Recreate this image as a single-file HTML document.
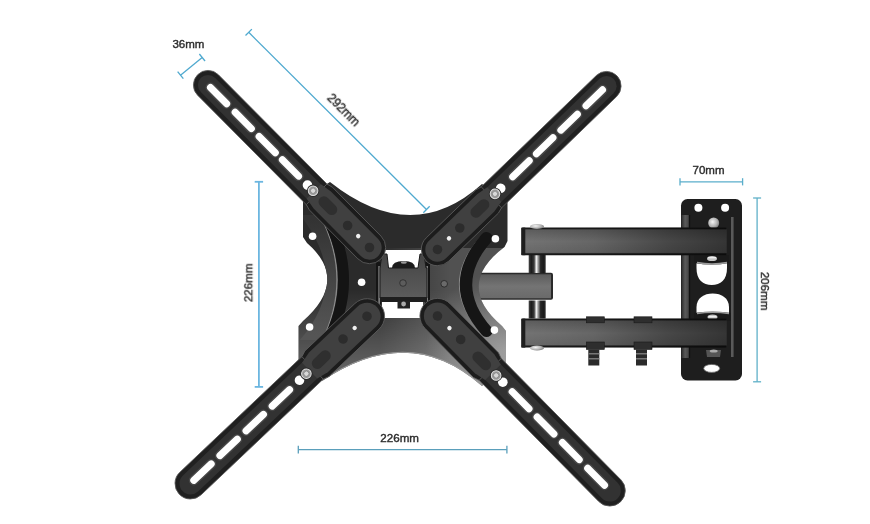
<!DOCTYPE html><html><head><meta charset="utf-8"><style>html,body{margin:0;padding:0;background:#fff;}svg{display:block;}text{font-family:"Liberation Sans",sans-serif;}</style></head><body>
<svg width="870" height="524" viewBox="0 0 870 524">
<defs>
<radialGradient id="bolt" cx="0.4" cy="0.4" r="0.7"><stop offset="0" stop-color="#f4f4f4"/><stop offset="0.6" stop-color="#b0b0b0"/><stop offset="1" stop-color="#6a6a6a"/></radialGradient>
<linearGradient id="plateg" gradientUnits="userSpaceOnUse" x1="0" y1="200" x2="0" y2="385"><stop offset="0" stop-color="#262626"/><stop offset="0.45" stop-color="#2c2c2c"/><stop offset="0.7" stop-color="#444"/><stop offset="1" stop-color="#6a6a6a"/></linearGradient>
<linearGradient id="barg" x1="0" y1="0" x2="0" y2="1"><stop offset="0" stop-color="#1a1a1a"/><stop offset="0.045" stop-color="#1a1a1a"/><stop offset="0.08" stop-color="#5e5e5e"/><stop offset="0.5" stop-color="#747474"/><stop offset="0.9" stop-color="#6a6a6a"/><stop offset="0.95" stop-color="#1a1a1a"/><stop offset="1" stop-color="#1a1a1a"/></linearGradient>
<linearGradient id="barh" gradientUnits="userSpaceOnUse" x1="520" y1="0" x2="730" y2="0"><stop offset="0" stop-color="#000" stop-opacity="0"/><stop offset="0.35" stop-color="#000" stop-opacity="0.12"/><stop offset="0.7" stop-color="#000" stop-opacity="0.38"/><stop offset="1" stop-color="#000" stop-opacity="0.55"/></linearGradient>
<linearGradient id="cylg" x1="0" y1="0" x2="1" y2="0"><stop offset="0" stop-color="#444"/><stop offset="0.15" stop-color="#1a1a1a"/><stop offset="0.32" stop-color="#3a3a3a"/><stop offset="0.45" stop-color="#f4f4f4"/><stop offset="0.56" stop-color="#999"/><stop offset="0.7" stop-color="#262626"/><stop offset="0.9" stop-color="#1a1a1a"/><stop offset="1" stop-color="#3a3a3a"/></linearGradient>
<linearGradient id="brg" x1="0" y1="0" x2="0" y2="1"><stop offset="0" stop-color="#444"/><stop offset="1" stop-color="#5c5c5c"/></linearGradient>
<clipPath id="plateclip"><path id="platepath" d="M303,199 L330,182 Q412,247 482,184 L507.5,200 L507.5,241 L504.5,247 Q454,285 502,326 L506,331 L506,364 L482,386 Q410,322 322,381 L298.5,360 L298.5,326 L303,321 Q349.6,280 307,243 L303,237 Z"/></clipPath>
<linearGradient id="platehx" gradientUnits="userSpaceOnUse" x1="380" y1="0" x2="450" y2="0"><stop offset="0" stop-color="#fff" stop-opacity="0"/><stop offset="1" stop-color="#fff" stop-opacity="0.18"/></linearGradient>
<linearGradient id="platevy" gradientUnits="userSpaceOnUse" x1="0" y1="290" x2="0" y2="375"><stop offset="0" stop-color="#fff" stop-opacity="0"/><stop offset="1" stop-color="#fff" stop-opacity="0.28"/></linearGradient>
<linearGradient id="flL" gradientUnits="userSpaceOnUse" x1="0" y1="220" x2="0" y2="335"><stop offset="0" stop-color="#333"/><stop offset="1" stop-color="#555"/></linearGradient>
<radialGradient id="platerad" gradientUnits="userSpaceOnUse" cx="505" cy="350" r="80"><stop offset="0" stop-color="#fff" stop-opacity="0.3"/><stop offset="1" stop-color="#fff" stop-opacity="0"/></radialGradient>
<linearGradient id="flg" x1="0" y1="0" x2="1" y2="0"><stop offset="0" stop-color="#2a2a2a"/><stop offset="0.5" stop-color="#5a5a5a"/><stop offset="1" stop-color="#444"/></linearGradient>
<linearGradient id="midg" x1="0" y1="0" x2="0" y2="1"><stop offset="0" stop-color="#5c5c5c"/><stop offset="0.5" stop-color="#747474"/><stop offset="1" stop-color="#6a6a6a"/></linearGradient>
</defs>
<rect width="870" height="524" fill="#fff"/>
<line x1="180.5" y1="75.2" x2="202.2" y2="57.5" stroke="#4fa9cf" stroke-width="1.3"/><line x1="183.34" y1="78.69" x2="177.66" y2="71.71" stroke="#4fa9cf" stroke-width="1.3"/><line x1="205.04" y1="60.99" x2="199.36" y2="54.01" stroke="#4fa9cf" stroke-width="1.3"/>
<line x1="248.7" y1="32.3" x2="426.5" y2="209.5" stroke="#4fa9cf" stroke-width="1.3"/><line x1="245.52" y1="35.49" x2="251.88" y2="29.11" stroke="#4fa9cf" stroke-width="1.3"/><line x1="423.32" y1="212.69" x2="429.68" y2="206.31" stroke="#4fa9cf" stroke-width="1.3"/>
<line x1="258.9" y1="181.8" x2="258.9" y2="386.9" stroke="#6cb6e0" stroke-width="1.8"/><line x1="254.70" y1="181.80" x2="263.10" y2="181.80" stroke="#6cb6e0" stroke-width="1.8"/><line x1="254.70" y1="386.90" x2="263.10" y2="386.90" stroke="#6cb6e0" stroke-width="1.8"/>
<line x1="298.3" y1="449.6" x2="506.9" y2="449.6" stroke="#5a9fbb" stroke-width="1.3"/><line x1="298.30" y1="453.40" x2="298.30" y2="445.80" stroke="#5a9fbb" stroke-width="1.3"/><line x1="506.90" y1="453.40" x2="506.90" y2="445.80" stroke="#5a9fbb" stroke-width="1.3"/>
<line x1="680" y1="181.8" x2="742.6" y2="181.8" stroke="#5aaecb" stroke-width="1.3"/><line x1="680.00" y1="185.40" x2="680.00" y2="178.20" stroke="#5aaecb" stroke-width="1.3"/><line x1="742.60" y1="185.40" x2="742.60" y2="178.20" stroke="#5aaecb" stroke-width="1.3"/>
<line x1="757.1" y1="198" x2="757.1" y2="381.8" stroke="#5fb0c8" stroke-width="1.3"/><line x1="753.10" y1="198.00" x2="761.10" y2="198.00" stroke="#5fb0c8" stroke-width="1.3"/><line x1="753.10" y1="381.80" x2="761.10" y2="381.80" stroke="#5fb0c8" stroke-width="1.3"/>
<g opacity="0.99" stroke="#2b2b2b" stroke-width="0.4">
<text x="172.4" y="47.7" font-size="11.5" fill="#2b2b2b">36mm</text>
<text x="0" y="0" font-size="12" fill="#2b2b2b" text-anchor="middle" transform="translate(343.5,110) rotate(45) translate(0,4)">292mm</text>
<text x="0" y="0" font-size="11.6" fill="#2b2b2b" text-anchor="middle" transform="translate(252.3,282.8) rotate(-90)">226mm</text>
<text x="399.7" y="442.1" font-size="11.6" fill="#2b2b2b" text-anchor="middle">226mm</text>
<text x="708.5" y="173.8" font-size="11.5" fill="#2b2b2b" text-anchor="middle">70mm</text>
<text x="0" y="0" font-size="11.6" fill="#2b2b2b" text-anchor="middle" transform="translate(761,291.2) rotate(90)">206mm</text>
</g>
<rect x="462" y="272.8" width="91" height="27" rx="2" fill="#2a2a2a"/>
<rect x="462" y="274.3" width="89" height="24" fill="url(#midg)"/>
<use href="#platepath" fill="#2b2b2b"/>
<g clip-path="url(#plateclip)">
<rect x="290" y="248" width="230" height="150" fill="url(#platehx)"/>
<rect x="290" y="170" width="230" height="230" fill="url(#platevy)"/>
<rect x="290" y="170" width="230" height="230" fill="url(#platerad)"/>
<path d="M300,215 Q352,280 300,340 L320,340 Q364,280 320,215 Z" fill="url(#flL)"/>
<path d="M320,215 Q354,280 320,345" fill="none" stroke="#8a8a8a" stroke-width="1.3"/>
<path d="M326,215 Q361,280 326,345" fill="none" stroke="#141414" stroke-width="11"/>
<path d="M480,238 Q439,284.5 480,331" fill="none" stroke="#8a8a8a" stroke-width="1.3"/>
<path d="M486.5,238 Q445.5,284.5 486.5,331" fill="none" stroke="#151515" stroke-width="12" stroke-linecap="round"/>
<path d="M322,381 Q410,322 482,386" fill="none" stroke="#9a9a9a" stroke-width="2"/>
</g>
<rect x="382" y="250" width="41" height="68" fill="#fff"/>
<rect x="376" y="262" width="5" height="50" fill="#151515"/><rect x="378.5" y="266" width="1.2" height="40" fill="#aaa"/>
<rect x="425" y="262" width="5" height="50" fill="#151515"/><rect x="426.5" y="266" width="1.2" height="40" fill="#aaa"/>
<circle cx="312.6" cy="236.3" r="3.8" fill="#fff"/>
<circle cx="361.6" cy="282.2" r="3.8" fill="#fff"/>
<circle cx="309.6" cy="327" r="3.8" fill="#fff"/>
<circle cx="495.4" cy="238.8" r="3.8" fill="#fff"/>
<circle cx="494.4" cy="330.1" r="3.8" fill="#fff"/>
<circle cx="444.2" cy="283.8" r="3.3" fill="#6a6a6a" stroke="#222" stroke-width="0.8"/>
<path d="M382,254 L387,254 L388.5,268 L418,268 L420,254 L424,254 L426,268 L427,268 L427,298 L380,298 L380,268 Z" fill="url(#brg)" stroke="#1a1a1a" stroke-width="1"/>
<path d="M392,268 Q392,261 403.8,261 Q415,261 415,268 Z" fill="#1c1c1c"/>
<ellipse cx="403.8" cy="262.5" rx="3" ry="1.3" fill="#999"/>
<circle cx="403" cy="283" r="3.3" fill="#5c5c5c" stroke="#2a2a2a" stroke-width="0.8"/>
<rect x="380" y="297" width="47" height="5" fill="#1e1e1e"/>
<path d="M397.5,301 L410,301 L410,308.5 L397.5,308.5 Z" fill="#222"/>
<circle cx="403.6" cy="304" r="2.4" fill="#aaa"/>
<rect x="528.7" y="255" width="17" height="18" fill="url(#cylg)"/>
<rect x="528.7" y="300.5" width="17" height="18" fill="url(#cylg)"/>
<rect x="681" y="199" width="61" height="181.5" rx="6.5" fill="#1e1e1e"/>
<rect x="681.3" y="215" width="7.7" height="143" fill="url(#flg)"/>
<rect x="688.8" y="215" width="1.3" height="143" fill="#111"/>
<rect x="731" y="217" width="2.6" height="140" fill="#5a5a5a"/>
<circle cx="698.4" cy="207.7" r="4" fill="#fff"/><circle cx="725.1" cy="207.7" r="4" fill="#fff"/>
<path d="M696.5,258 L727,258 L727,268 C727,280 720.5,285 711.7,285 C703,285 696.5,280 696.5,268 Z" fill="#fff"/>
<path d="M696.5,318 L729,318 L729,307 C729,298 721.5,293.4 712.7,293.4 C704,293.4 696.5,298 696.5,307 Z" fill="#fff"/>
<ellipse cx="711.7" cy="368.4" rx="8" ry="4" fill="#fff" stroke="#666" stroke-width="0.8"/>
<ellipse cx="713.7" cy="223" rx="5.5" ry="5.5" fill="url(#bolt)"/>
<path d="M694,255 L729,255 L729,263 Q712,266 694,263 Z" fill="#1a1a1a"/><path d="M697,262.5 Q712,265.5 727,262.5" fill="none" stroke="#9a9a9a" stroke-width="1.3"/><ellipse cx="712" cy="258.5" rx="5" ry="2.6" fill="#c4c4c4"/><rect x="708" y="257" width="8" height="1.4" fill="#eee"/>
<path d="M694,321 L731,321 L731,313 Q712.5,310.5 694,313 Z" fill="#1a1a1a"/><path d="M697,313.5 Q712.5,311 729,313.5" fill="none" stroke="#9a9a9a" stroke-width="1.3"/><ellipse cx="712.5" cy="317" rx="5" ry="2.6" fill="#c4c4c4"/><rect x="708.5" y="316" width="8" height="1.4" fill="#eee"/>
<path d="M706,350 L721,350 L720,357 L707,357 Z" fill="#555"/><ellipse cx="713.7" cy="351" rx="4" ry="1.6" fill="#aaa"/>
<rect x="521.3" y="227.6" width="205" height="27.6" rx="1.5" fill="url(#barg)"/>
<rect x="521.3" y="227.6" width="205" height="27.6" fill="url(#barh)"/>
<rect x="521.3" y="227.6" width="4" height="27.6" fill="#1e1e1e"/>
<ellipse cx="537" cy="226.5" rx="7" ry="2.6" fill="url(#bolt)"/>
<rect x="521.3" y="318.6" width="205" height="29" rx="1.5" fill="url(#barg)"/>
<rect x="521.3" y="318.6" width="205" height="29" fill="url(#barh)"/>
<rect x="521.3" y="318.6" width="4" height="29" fill="#1e1e1e"/>
<ellipse cx="537" cy="348" rx="7" ry="2.6" fill="url(#bolt)"/>
<rect x="586.3" y="316.8" width="18" height="6" fill="#2e2e2e" stroke="#1a1a1a" stroke-width="0.6"/>
<rect x="586.3" y="342" width="18" height="7.5" fill="#2e2e2e" stroke="#1a1a1a" stroke-width="0.6"/>
<rect x="588.3" y="349.5" width="11" height="16" fill="#2a2a2a"/>
<rect x="588.3" y="353" width="11" height="1.5" fill="#777"/><rect x="588.3" y="358" width="11" height="1.5" fill="#777"/>
<rect x="634" y="316.8" width="18" height="6" fill="#2e2e2e" stroke="#1a1a1a" stroke-width="0.6"/>
<rect x="634" y="342" width="18" height="7.5" fill="#2e2e2e" stroke="#1a1a1a" stroke-width="0.6"/>
<rect x="636" y="349.5" width="11" height="16" fill="#2a2a2a"/>
<rect x="636" y="353" width="11" height="1.5" fill="#777"/><rect x="636" y="358" width="11" height="1.5" fill="#777"/>
<g transform="translate(208.00,85.00) rotate(45.18)">
<rect x="-14.60" y="-14.60" width="258.30" height="29.20" rx="14.60" fill="#202020" stroke="#5a5a5a" stroke-width="0.8"/>
<rect x="-10.10" y="-10.10" width="249.30" height="20.20" rx="10.10" fill="#323232"/>
<rect x="0.00" y="-3.50" width="30.00" height="7.00" rx="3.50" fill="#fff" stroke="#474747" stroke-width="3"/>
<rect x="0.00" y="-3.50" width="30.00" height="7.00" rx="3.50" fill="#fff"/>
<rect x="35.00" y="-3.50" width="30.00" height="7.00" rx="3.50" fill="#fff" stroke="#474747" stroke-width="3"/>
<rect x="35.00" y="-3.50" width="30.00" height="7.00" rx="3.50" fill="#fff"/>
<rect x="69.00" y="-3.50" width="30.00" height="7.00" rx="3.50" fill="#fff" stroke="#474747" stroke-width="3"/>
<rect x="69.00" y="-3.50" width="30.00" height="7.00" rx="3.50" fill="#fff"/>
<rect x="102.00" y="-3.50" width="30.00" height="7.00" rx="3.50" fill="#fff" stroke="#474747" stroke-width="3"/>
<rect x="102.00" y="-3.50" width="30.00" height="7.00" rx="3.50" fill="#fff"/>
<circle cx="141.10" cy="0" r="4.8" fill="#fff"/>
<path d="M154.10,-14.60 L160.10,-16.20 L229.10,-16.20 A16.20,16.20 0 0 1 229.10,16.20 L160.10,16.20 L154.10,14.60 Z" fill="#1c1c1c" stroke="#5e5e5e" stroke-width="0.8"/>
<path d="M150.10,-10.10 L162.10,-12.20 L229.10,-12.20 A12.20,12.20 0 0 1 229.10,12.20 L162.10,12.20 L150.10,10.10 Z" fill="#404040"/>
<rect x="159.10" y="-5.5" width="22" height="11" rx="5.5" fill="#2f2f2f"/>
<circle cx="198.10" cy="0" r="4.8" fill="#2c2c2c"/>
<circle cx="213.10" cy="0" r="2.2" fill="#f0f0f0"/>
<circle cx="229.10" cy="0" r="4.8" fill="#2c2c2c"/>
<circle cx="149.10" cy="0" r="6.2" fill="#2a2a2a"/>
<circle cx="149.10" cy="0" r="4.8" fill="#9a9a9a" stroke="#e0e0e0" stroke-width="1"/>
<circle cx="149.10" cy="0" r="2.6" fill="#d8d8d8" stroke="#777" stroke-width="0.6"/>
</g>
<g transform="translate(606.50,86.00) rotate(135.95)">
<rect x="-14.60" y="-14.60" width="264.35" height="29.20" rx="14.60" fill="#202020" stroke="#5a5a5a" stroke-width="0.8"/>
<rect x="-10.10" y="-10.10" width="255.35" height="20.20" rx="10.10" fill="#323232"/>
<rect x="2.00" y="-3.50" width="30.00" height="7.00" rx="3.50" fill="#fff" stroke="#474747" stroke-width="3"/>
<rect x="2.00" y="-3.50" width="30.00" height="7.00" rx="3.50" fill="#fff"/>
<rect x="37.00" y="-3.50" width="30.00" height="7.00" rx="3.50" fill="#fff" stroke="#474747" stroke-width="3"/>
<rect x="37.00" y="-3.50" width="30.00" height="7.00" rx="3.50" fill="#fff"/>
<rect x="71.00" y="-3.50" width="30.00" height="7.00" rx="3.50" fill="#fff" stroke="#474747" stroke-width="3"/>
<rect x="71.00" y="-3.50" width="30.00" height="7.00" rx="3.50" fill="#fff"/>
<rect x="104.00" y="-3.50" width="30.00" height="7.00" rx="3.50" fill="#fff" stroke="#474747" stroke-width="3"/>
<rect x="104.00" y="-3.50" width="30.00" height="7.00" rx="3.50" fill="#fff"/>
<circle cx="147.15" cy="0" r="4.8" fill="#fff"/>
<path d="M160.15,-14.60 L166.15,-16.20 L235.15,-16.20 A16.20,16.20 0 0 1 235.15,16.20 L166.15,16.20 L160.15,14.60 Z" fill="#1c1c1c" stroke="#5e5e5e" stroke-width="0.8"/>
<path d="M156.15,-10.10 L168.15,-12.20 L235.15,-12.20 A12.20,12.20 0 0 1 235.15,12.20 L168.15,12.20 L156.15,10.10 Z" fill="#404040"/>
<rect x="165.15" y="-5.5" width="22" height="11" rx="5.5" fill="#2f2f2f"/>
<circle cx="204.15" cy="0" r="4.8" fill="#2c2c2c"/>
<circle cx="219.15" cy="0" r="2.2" fill="#f0f0f0"/>
<circle cx="235.15" cy="0" r="4.8" fill="#2c2c2c"/>
<circle cx="155.15" cy="0" r="6.2" fill="#2a2a2a"/>
<circle cx="155.15" cy="0" r="4.8" fill="#9a9a9a" stroke="#e0e0e0" stroke-width="1"/>
<circle cx="155.15" cy="0" r="2.6" fill="#d8d8d8" stroke="#777" stroke-width="0.6"/>
</g>
<g transform="translate(190.50,483.50) rotate(-43.45)">
<rect x="-15.50" y="-15.50" width="274.12" height="31.00" rx="15.50" fill="#202020" stroke="#5a5a5a" stroke-width="0.8"/>
<rect x="-11.00" y="-11.00" width="265.12" height="22.00" rx="11.00" fill="#323232"/>
<rect x="1.00" y="-3.50" width="31.00" height="7.00" rx="3.50" fill="#fff" stroke="#474747" stroke-width="3"/>
<rect x="1.00" y="-3.50" width="31.00" height="7.00" rx="3.50" fill="#fff"/>
<rect x="37.00" y="-3.50" width="31.00" height="7.00" rx="3.50" fill="#fff" stroke="#474747" stroke-width="3"/>
<rect x="37.00" y="-3.50" width="31.00" height="7.00" rx="3.50" fill="#fff"/>
<rect x="73.00" y="-3.50" width="31.00" height="7.00" rx="3.50" fill="#fff" stroke="#474747" stroke-width="3"/>
<rect x="73.00" y="-3.50" width="31.00" height="7.00" rx="3.50" fill="#fff"/>
<rect x="109.00" y="-3.50" width="31.00" height="7.00" rx="3.50" fill="#fff" stroke="#474747" stroke-width="3"/>
<rect x="109.00" y="-3.50" width="31.00" height="7.00" rx="3.50" fill="#fff"/>
<circle cx="150.12" cy="0" r="4.8" fill="#fff"/>
<path d="M168.12,-15.50 L174.12,-17.60 L243.12,-17.60 A17.60,17.60 0 0 1 243.12,17.60 L174.12,17.60 L168.12,15.50 Z" fill="#1c1c1c" stroke="#5e5e5e" stroke-width="0.8"/>
<path d="M164.12,-11.00 L176.12,-13.60 L243.12,-13.60 A13.60,13.60 0 0 1 243.12,13.60 L176.12,13.60 L164.12,11.00 Z" fill="#404040"/>
<rect x="169.12" y="-5.5" width="22" height="11" rx="5.5" fill="#2f2f2f"/>
<circle cx="210.12" cy="0" r="4.8" fill="#2c2c2c"/>
<circle cx="226.12" cy="0" r="2.2" fill="#f0f0f0"/>
<circle cx="243.12" cy="0" r="4.8" fill="#2c2c2c"/>
<circle cx="159.62" cy="0" r="6.2" fill="#2a2a2a"/>
<circle cx="159.62" cy="0" r="4.8" fill="#9a9a9a" stroke="#e0e0e0" stroke-width="1"/>
<circle cx="159.62" cy="0" r="2.6" fill="#d8d8d8" stroke="#777" stroke-width="0.6"/>
</g>
<g transform="translate(609.80,490.60) rotate(-134.62)">
<rect x="-15.50" y="-15.50" width="276.30" height="31.00" rx="15.50" fill="#202020" stroke="#5a5a5a" stroke-width="0.8"/>
<rect x="-11.00" y="-11.00" width="267.30" height="22.00" rx="11.00" fill="#323232"/>
<rect x="4.00" y="-3.50" width="31.00" height="7.00" rx="3.50" fill="#fff" stroke="#474747" stroke-width="3"/>
<rect x="4.00" y="-3.50" width="31.00" height="7.00" rx="3.50" fill="#fff"/>
<rect x="40.00" y="-3.50" width="31.00" height="7.00" rx="3.50" fill="#fff" stroke="#474747" stroke-width="3"/>
<rect x="40.00" y="-3.50" width="31.00" height="7.00" rx="3.50" fill="#fff"/>
<rect x="76.00" y="-3.50" width="31.00" height="7.00" rx="3.50" fill="#fff" stroke="#474747" stroke-width="3"/>
<rect x="76.00" y="-3.50" width="31.00" height="7.00" rx="3.50" fill="#fff"/>
<rect x="111.50" y="-3.50" width="31.00" height="7.00" rx="3.50" fill="#fff" stroke="#474747" stroke-width="3"/>
<rect x="111.50" y="-3.50" width="31.00" height="7.00" rx="3.50" fill="#fff"/>
<circle cx="152.30" cy="0" r="4.8" fill="#fff"/>
<path d="M170.30,-15.50 L176.30,-17.60 L245.30,-17.60 A17.60,17.60 0 0 1 245.30,17.60 L176.30,17.60 L170.30,15.50 Z" fill="#1c1c1c" stroke="#5e5e5e" stroke-width="0.8"/>
<path d="M166.30,-11.00 L178.30,-13.60 L245.30,-13.60 A13.60,13.60 0 0 1 245.30,13.60 L178.30,13.60 L166.30,11.00 Z" fill="#404040"/>
<rect x="171.30" y="-5.5" width="22" height="11" rx="5.5" fill="#2f2f2f"/>
<circle cx="212.30" cy="0" r="4.8" fill="#2c2c2c"/>
<circle cx="228.30" cy="0" r="2.2" fill="#f0f0f0"/>
<circle cx="245.30" cy="0" r="4.8" fill="#2c2c2c"/>
<circle cx="161.80" cy="0" r="6.2" fill="#2a2a2a"/>
<circle cx="161.80" cy="0" r="4.8" fill="#9a9a9a" stroke="#e0e0e0" stroke-width="1"/>
<circle cx="161.80" cy="0" r="2.6" fill="#d8d8d8" stroke="#777" stroke-width="0.6"/>
</g>
</svg></body></html>
